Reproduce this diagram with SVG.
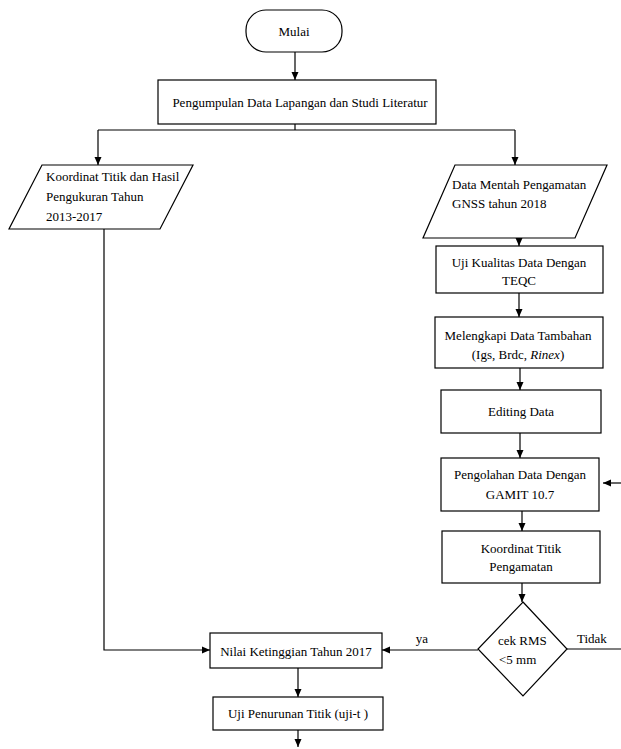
<svg xmlns="http://www.w3.org/2000/svg" width="621" height="749" viewBox="0 0 621 749" font-family="'Liberation Serif', 'Times New Roman', 'DejaVu Serif', serif" font-size="13">
<style>
  .shape { fill: #ffffff; stroke: #000000; stroke-width: 1.2; }
  .conn { fill: none; stroke: #000000; stroke-width: 1.2; }
  .t { font-family: 'Liberation Serif', 'Times New Roman', 'DejaVu Serif', serif; font-size: 13px; fill: #000000; }
  .c { text-anchor: middle; }
</style>
<defs>
  <marker id="arrow" markerUnits="userSpaceOnUse" markerWidth="8" markerHeight="8" refX="8" refY="4" orient="auto">
    <path d="M0,0.5 L8,4 L0,7.5 z" fill="#000000"/>
  </marker>
</defs>
<rect width="621" height="749" fill="#ffffff"/>

<g id="connectors">
  <line class="conn" x1="295" y1="52" x2="295" y2="80" marker-end="url(#arrow)"/>
  <line class="conn" x1="295" y1="124" x2="295" y2="130"/>
  <line class="conn" x1="98" y1="130" x2="515" y2="130"/>
  <line class="conn" x1="98" y1="130" x2="98" y2="165" marker-end="url(#arrow)"/>
  <line class="conn" x1="515" y1="130" x2="515" y2="165" marker-end="url(#arrow)"/>
  <polyline class="conn" points="104,229 104,650 210,650" marker-end="url(#arrow)"/>
  <line class="conn" x1="519" y1="238" x2="519" y2="246" marker-end="url(#arrow)"/>
  <line class="conn" x1="519" y1="293" x2="519" y2="317" marker-end="url(#arrow)"/>
  <line class="conn" x1="520" y1="368" x2="520" y2="390" marker-end="url(#arrow)"/>
  <line class="conn" x1="520" y1="433" x2="520" y2="458" marker-end="url(#arrow)"/>
  <line class="conn" x1="621" y1="483" x2="603" y2="483" marker-end="url(#arrow)"/>
  <line class="conn" x1="522" y1="511" x2="522" y2="531" marker-end="url(#arrow)"/>
  <line class="conn" x1="522" y1="583" x2="522" y2="602" marker-end="url(#arrow)"/>
  <line class="conn" x1="478" y1="650" x2="382" y2="650" marker-end="url(#arrow)"/>
  <line class="conn" x1="567" y1="649" x2="621" y2="649"/>
  <line class="conn" x1="298" y1="668" x2="298" y2="697" marker-end="url(#arrow)"/>
  <line class="conn" x1="298" y1="730" x2="298" y2="747" marker-end="url(#arrow)"/>
  <text class="t c" x="422" y="643">ya</text>
  <text class="t" x="577" y="643">Tidak</text>
</g>

<g id="mulai">
  <rect class="shape" x="246" y="10" width="96" height="42" rx="20" ry="20"/>
  <text class="t c" x="294" y="36">Mulai</text>
</g>

<g id="pengumpulan">
  <rect class="shape" x="158" y="80" width="278" height="44"/>
  <text class="t c" x="300" y="107">Pengumpulan Data Lapangan dan Studi Literatur</text>
</g>

<g id="koordinat-hasil">
  <polygon class="shape" points="42,165 193,165 160,229 9,229"/>
  <text class="t" x="46" y="181">Koordinat Titik dan Hasil</text>
  <text class="t" x="46" y="201">Pengukuran  Tahun</text>
  <text class="t" x="46" y="221">2013-2017</text>
</g>

<g id="data-mentah">
  <polygon class="shape" points="455,165 607,165 575,238 423,238"/>
  <text class="t" x="452" y="189">Data Mentah Pengamatan</text>
  <text class="t" x="452" y="208">GNSS tahun 2018</text>
</g>

<g id="uji-kualitas">
  <rect class="shape" x="436" y="246" width="167" height="47"/>
  <text class="t c" x="519" y="267">Uji Kualitas Data Dengan</text>
  <text class="t c" x="519" y="285">TEQC</text>
</g>

<g id="melengkapi">
  <rect class="shape" x="435" y="317" width="168" height="51"/>
  <text class="t c" x="518" y="340">Melengkapi  Data  Tambahan</text>
  <text class="t c" x="518" y="359">(Igs, Brdc, <tspan font-style="italic">Rinex</tspan>)</text>
</g>

<g id="editing">
  <rect class="shape" x="441" y="390" width="160" height="43"/>
  <text class="t c" x="521" y="416">Editing Data</text>
</g>

<g id="pengolahan">
  <rect class="shape" x="441" y="458" width="158" height="53"/>
  <text class="t c" x="520" y="479">Pengolahan Data Dengan</text>
  <text class="t c" x="520" y="499">GAMIT 10.7</text>
</g>

<g id="koordinat-pengamatan">
  <rect class="shape" x="442" y="531" width="158" height="52"/>
  <text class="t c" x="521" y="553">Koordinat  Titik</text>
  <text class="t c" x="521" y="571">Pengamatan</text>
</g>

<g id="cek-rms">
  <polygon class="shape" points="523,602 567,649 523,696 478,649"/>
  <text class="t" x="498" y="645">cek RMS</text>
  <text class="t" x="499" y="664">&lt;5 mm</text>
</g>

<g id="nilai">
  <rect class="shape" x="210" y="633" width="172" height="35"/>
  <text class="t c" x="296" y="656">Nilai Ketinggian Tahun 2017</text>
</g>

<g id="uji-penurunan">
  <rect class="shape" x="213" y="697" width="170" height="33"/>
  <text class="t c" x="298" y="718">Uji Penurunan Titik (uji-t )</text>
</g>
</svg>
